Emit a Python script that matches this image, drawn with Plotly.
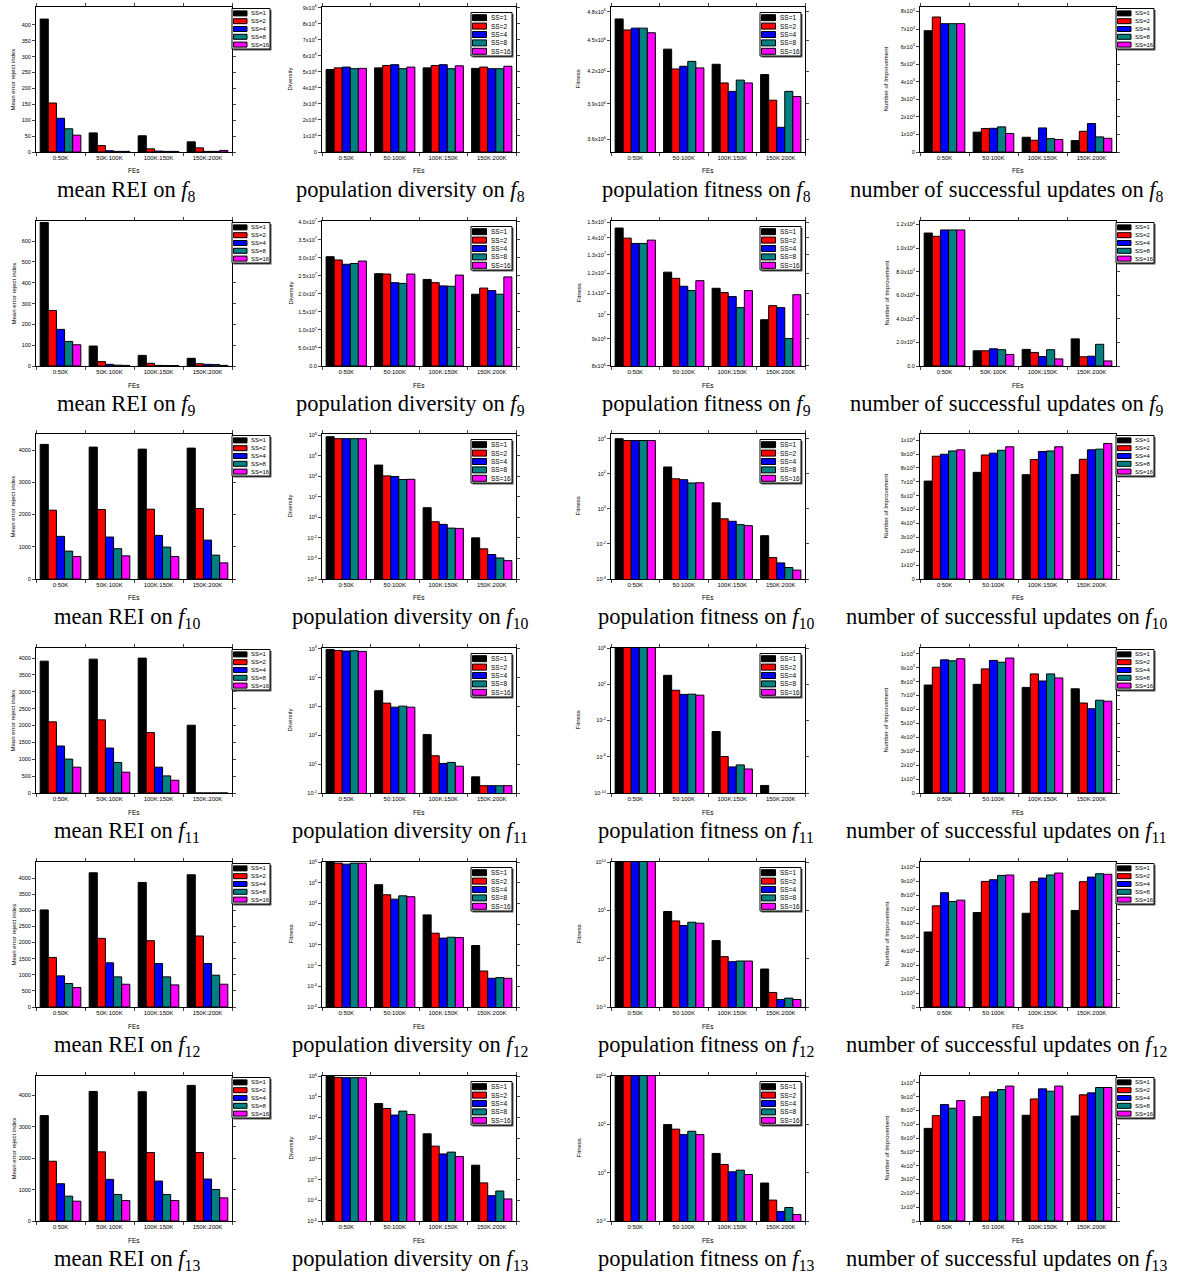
import plotly.graph_objects as go

W, H = 1187, 1277

SERIES = ["SS=1", "SS=2", "SS=4", "SS=8", "SS=16"]
COLORS = ["#000000", "#FF0000", "#0000FF", "#008080", "#FF00FF"]

CATS_K = ["0:50K", "50K:100K", "100K:150K", "150K:200K"]
CATS_S = ["0:50K", "50:100K", "100K:150K", "150K:200K"]

# ---------------- mean REI (rows: SS=1,2,4,8,16 ; cols: FE windows) ----------------
rei_f8 = [[418, 60, 51, 32], [154, 20, 10, 13], [106, 4, 3, 2], [73, 2, 2, 2], [53, 2, 2, 5]]
rei_f9 = [[690, 96, 51, 37], [267, 21, 13, 11], [176, 8, 3, 8], [118, 4, 2, 7], [102, 3, 2, 3]]
rei_f10 = [[4177, 4094, 4031, 4062], [2135, 2156, 2167, 2187], [1323, 1302, 1354, 1208],
           [865, 940, 990, 740], [698, 719, 700, 500]]
rei_f11 = [[3910, 3970, 4000, 2010], [2110, 2169, 1791, 0], [1393, 1333, 766, 0],
           [1005, 905, 507, 0], [766, 617, 378, 0]]
rei_f12 = [[3013, 4166, 3865, 4104], [1538, 2130, 2057, 2203], [966, 1371, 1351, 1351],
           [727, 935, 935, 987], [603, 707, 686, 707]]
rei_f13 = [[3358, 4128, 4118, 4321], [1904, 2203, 2182, 2182], [1187, 1326, 1273, 1337],
           [791, 845, 845, 1005], [631, 652, 652, 738]]

# ---------------- population diversity ----------------
div_f8 = [[5.15e6, 5.25e6, 5.25e6, 5.22e6], [5.25e6, 5.40e6, 5.40e6, 5.30e6],
          [5.30e6, 5.45e6, 5.45e6, 5.20e6], [5.20e6, 5.20e6, 5.20e6, 5.20e6],
          [5.22e6, 5.30e6, 5.38e6, 5.35e6]]
div_f9 = [[3.03e7, 2.56e7, 2.40e7, 1.99e7], [2.94e7, 2.55e7, 2.31e7, 2.16e7],
          [2.82e7, 2.31e7, 2.22e7, 2.09e7], [2.84e7, 2.29e7, 2.21e7, 1.99e7],
          [2.91e7, 2.55e7, 2.52e7, 2.47e7]]
div_f10 = [[7.4e7, 1.26e5, 8.9, 1.02e-2], [4.7e7, 1.12e4, 0.38, 8.7e-4],
           [4.7e7, 9.8e3, 0.21, 2.4e-4], [4.7e7, 4.9e3, 0.091, 1.12e-4],
           [4.7e7, 5.2e3, 0.085, 6.2e-5]]
div_f11 = [[8.9e8, 1.23e6, 1.12e3, 1.32], [7.6e8, 1.7e5, 38, 0.32],
           [6.9e8, 8.9e4, 11.2, 0.32], [7.2e8, 1.05e5, 13.2, 0.32],
           [6.5e8, 8.9e4, 7.2, 0.32]]
div_f12 = [[1.2e8, 6.5e5, 790, 0.87], [7.9e7, 6.9e4, 13.5, 3.0e-3],
           [6.3e7, 2.6e4, 4.5, 5.9e-4], [7.9e7, 5.5e4, 5.5, 6.9e-4],
           [7.9e7, 4.5e4, 5.1, 5.9e-4]]
div_f13 = [[1.2e8, 2.24e5, 263, 0.245], [7.4e7, 7.4e4, 17, 4.8e-3],
           [6.9e7, 1.7e4, 3.0, 2.8e-4], [6.9e7, 4.1e4, 4.5, 7.9e-4],
           [6.9e7, 1.95e4, 1.7, 1.35e-4]]

# ---------------- population fitness ----------------
fit_f8 = [[4.724e6, 4.413e6, 4.265e6, 4.167e6], [4.608e6, 4.220e6, 4.089e6, 3.933e6],
          [4.627e6, 4.246e6, 4.012e6, 3.700e6], [4.627e6, 4.293e6, 4.115e6, 4.012e6],
          [4.579e6, 4.230e6, 4.089e6, 3.966e6]]
fit_f9 = [[1.461e7, 1.205e7, 1.123e7, 9.79e6], [1.398e7, 1.173e7, 1.102e7, 1.041e7],
          [1.366e7, 1.133e7, 1.083e7, 1.032e7], [1.366e7, 1.112e7, 1.032e7, 9.02e6],
          [1.386e7, 1.161e7, 1.112e7, 1.092e7]]
fit_f10 = [[1.0e4, 245, 2.2, 0.0295], [7.9e3, 52, 0.27, 1.66e-3],
           [7.9e3, 46, 0.195, 8.3e-4], [7.9e3, 30, 0.126, 4.5e-4],
           [7.9e3, 31, 0.11, 3.2e-4]]
fit_f11 = [[2e6, 980, 6.0e-4, 6.8e-10], [2e6, 22, 1.07e-6, None],
           [2e6, 7.6, 7.6e-8, None], [2e6, 8.1, 1.26e-7, None],
           [2e6, 6.3, 4.5e-8, None]]
fit_f12 = [[2e10, 7.6e4, 74, 0.085], [2e10, 8.1e3, 1.62, 3.2e-4],
           [2e10, 2.7e3, 0.49, 6.0e-5], [2e10, 5.9e3, 0.575, 8.3e-5],
           [2e10, 4.7e3, 0.575, 6.0e-5]]
fit_f13 = [[2e10, 9.5e4, 98, 0.085], [2e10, 3.2e4, 7.1, 1.45e-3],
           [2e10, 8.7e3, 1.23, 9.8e-5], [2e10, 1.95e4, 1.82, 2.5e-4],
           [2e10, 8.7e3, 0.65, 4.7e-5]]

# ---------------- number of successful updates ----------------
upd_f8 = [[6910, 1130, 840, 650], [7690, 1340, 670, 1180], [7310, 1350, 1370, 1620],
          [7310, 1430, 760, 860], [7310, 1050, 710, 780]]
upd_f9 = [[11280, 1290, 1410, 2300], [11000, 1290, 1150, 780], [11540, 1460, 800, 830],
          [11540, 1380, 1380, 1840], [11540, 980, 600, 430]]
upd_f10 = [[7050, 7680, 7510, 7530], [8840, 8930, 8600, 8620], [8980, 9060, 9180, 9300],
           [9220, 9270, 9220, 9350], [9300, 9520, 9520, 9760]]
upd_f11 = [[7750, 7800, 7580, 7480], [9030, 8910, 8550, 6460], [9560, 9520, 8040, 6050],
           [9490, 9390, 8550, 6660], [9640, 9690, 8260, 6590]]
upd_f12 = [[5370, 6760, 6710, 6910], [7240, 8990, 8970, 8970], [8180, 9110, 9230, 9300],
           [7550, 9420, 9450, 9540], [7650, 9450, 9590, 9500]]
upd_f13 = [[6700, 7550, 7650, 7600], [7620, 8980, 8830, 9130], [8420, 9340, 9560, 9270],
           [8160, 9510, 9390, 9660], [8710, 9760, 9760, 9660]]

# ---------------- tick values / labels ----------------
rei_tv_f8 = [0, 50, 100, 150, 200, 250, 300, 350, 400]
rei_tv_f9 = [0, 100, 200, 300, 400, 500, 600]
rei_tv_1000 = [0, 1000, 2000, 3000, 4000]
rei_tv_500 = [0, 500, 1000, 1500, 2000, 2500, 3000, 3500, 4000]

div_f8_tv = [0, 1e6, 2e6, 3e6, 4e6, 5e6, 6e6, 7e6, 8e6, 9e6]
div_f8_tt = ["0", "1x10<sup>6</sup>", "2x10<sup>6</sup>", "3x10<sup>6</sup>", "4x10<sup>6</sup>",
             "5x10<sup>6</sup>", "6x10<sup>6</sup>", "7x10<sup>6</sup>", "8x10<sup>6</sup>", "9x10<sup>6</sup>"]
div_f9_tv = [0, 5e6, 1e7, 1.5e7, 2e7, 2.5e7, 3e7, 3.5e7, 4e7]
div_f9_tt = ["0.0", "5.0x10<sup>6</sup>", "1.0x10<sup>7</sup>", "1.5x10<sup>7</sup>", "2.0x10<sup>7</sup>",
             "2.5x10<sup>7</sup>", "3.0x10<sup>7</sup>", "3.5x10<sup>7</sup>", "4.0x10<sup>7</sup>"]
log_tv_a = [1e-6, 1e-4, 1e-2, 1, 1e2, 1e4, 1e6, 1e8]
log_tt_a = ["10<sup>-6</sup>", "10<sup>-4</sup>", "10<sup>-2</sup>", "10<sup>0</sup>",
            "10<sup>2</sup>", "10<sup>4</sup>", "10<sup>6</sup>", "10<sup>8</sup>"]
log_tv_b = [1e-1, 1e1, 1e3, 1e5, 1e7, 1e9]
log_tt_b = ["10<sup>-1</sup>", "10<sup>1</sup>", "10<sup>3</sup>", "10<sup>5</sup>", "10<sup>7</sup>", "10<sup>9</sup>"]

fit_f8_tv = [3.6e6, 3.9e6, 4.2e6, 4.5e6, 4.8e6]
fit_f8_tt = ["3.6x10<sup>6</sup>", "3.9x10<sup>6</sup>", "4.2x10<sup>6</sup>", "4.5x10<sup>6</sup>", "4.8x10<sup>6</sup>"]
fit_f9_tv = [8e6, 9e6, 1e7, 1.1e7, 1.2e7, 1.3e7, 1.4e7, 1.5e7]
fit_f9_tt = ["8x10<sup>6</sup>", "9x10<sup>6</sup>", "10<sup>7</sup>", "1.1x10<sup>7</sup>",
             "1.2x10<sup>7</sup>", "1.3x10<sup>7</sup>", "1.4x10<sup>7</sup>", "1.5x10<sup>7</sup>"]
fit_f10_tv = [1e-4, 1e-2, 1, 1e2, 1e4]
fit_f10_tt = ["10<sup>-4</sup>", "10<sup>-2</sup>", "10<sup>0</sup>", "10<sup>2</sup>", "10<sup>4</sup>"]
fit_f11_tv = [1e-10, 1e-6, 1e-2, 1e2, 1e6]
fit_f11_tt = ["10<sup>-10</sup>", "10<sup>-6</sup>", "10<sup>-2</sup>", "10<sup>2</sup>", "10<sup>6</sup>"]
fit_f12_tv = [1e-5, 1, 1e5, 1e10]
fit_f12_tt = ["10<sup>-5</sup>", "10<sup>0</sup>", "10<sup>5</sup>", "10<sup>10</sup>"]

upd_f8_tv = [0, 1000, 2000, 3000, 4000, 5000, 6000, 7000, 8000]
upd_f8_tt = ["0", "1x10<sup>3</sup>", "2x10<sup>3</sup>", "3x10<sup>3</sup>", "4x10<sup>3</sup>",
             "5x10<sup>3</sup>", "6x10<sup>3</sup>", "7x10<sup>3</sup>", "8x10<sup>3</sup>"]
upd_f9_tv = [0, 2000, 4000, 6000, 8000, 10000, 12000]
upd_f9_tt = ["0.0", "2.0x10<sup>3</sup>", "4.0x10<sup>3</sup>", "6.0x10<sup>3</sup>", "8.0x10<sup>3</sup>",
             "1.0x10<sup>4</sup>", "1.2x10<sup>4</sup>"]
upd_tv = [0, 1000, 2000, 3000, 4000, 5000, 6000, 7000, 8000, 9000, 10000]
upd_tt = ["0", "1x10<sup>3</sup>", "2x10<sup>3</sup>", "3x10<sup>3</sup>", "4x10<sup>3</sup>",
          "5x10<sup>3</sup>", "6x10<sup>3</sup>", "7x10<sup>3</sup>", "8x10<sup>3</sup>",
          "9x10<sup>3</sup>", "1x10<sup>4</sup>"]

FUNCS = ["8", "9", "10", "11", "12", "13"]

# panel spec: (row, col, data, cats, type, range, tickvals, ticktext, ytitle)
panels = [
    (0, 0, rei_f8, CATS_K, "linear", [0, 456], rei_tv_f8, None, "Mean error reject index"),
    (0, 1, div_f8, CATS_S, "linear", [0, 9.05e6], div_f8_tv, div_f8_tt, "Diversity"),
    (0, 2, fit_f8, CATS_S, "log", [6.544, 6.686], fit_f8_tv, fit_f8_tt, "Fitness"),
    (0, 3, upd_f8, CATS_S, "linear", [0, 8260], upd_f8_tv, upd_f8_tt, "Number of Improvement"),
    (1, 0, rei_f9, CATS_K, "linear", [0, 697], rei_tv_f9, None, "Mean error reject index"),
    (1, 1, div_f9, CATS_S, "linear", [0, 4.02e7], div_f9_tv, div_f9_tt, "Diversity"),
    (1, 2, fit_f9, CATS_S, "log", [6.903, 7.178], fit_f9_tv, fit_f9_tt, "Fitness"),
    (1, 3, upd_f9, CATS_K, "linear", [0, 12300], upd_f9_tv, upd_f9_tt, "Number of Improvement"),
    (2, 0, rei_f10, CATS_K, "linear", [0, 4500], rei_tv_1000, None, "Mean error reject index"),
    (2, 1, div_f10, CATS_S, "log", [-6.0, 8.13], log_tv_a, log_tt_a, "Diversity"),
    (2, 2, fit_f10, CATS_S, "log", [-4.0, 4.27], fit_f10_tv, fit_f10_tt, "Fitness"),
    (2, 3, upd_f10, CATS_S, "linear", [0, 10440], upd_tv, upd_tt, "Number of Improvement"),
    (3, 0, rei_f11, CATS_K, "linear", [0, 4300], rei_tv_500, None, "Mean error reject index"),
    (3, 1, div_f11, CATS_S, "log", [-1.0, 9.05], log_tv_b, log_tt_b, "Diversity"),
    (3, 2, fit_f11, CATS_S, "log", [-10.0, 6.005], fit_f11_tv, fit_f11_tt, "Fitness"),
    (3, 3, upd_f11, CATS_S, "linear", [0, 10410], upd_tv, upd_tt, "Number of Improvement"),
    (4, 0, rei_f12, CATS_K, "linear", [0, 4500], rei_tv_500, None, "Mean error reject index"),
    (4, 1, div_f12, CATS_S, "log", [-6.0, 8.005], log_tv_a, log_tt_a, "Fitness"),
    (4, 2, fit_f12, CATS_S, "log", [-5.0, 10.005], fit_f12_tv, fit_f12_tt, "Fitness"),
    (4, 3, upd_f12, CATS_S, "linear", [0, 10380], upd_tv, upd_tt, "Number of Improvement"),
    (5, 0, rei_f13, CATS_K, "linear", [0, 4620], rei_tv_1000, None, "Mean error reject index"),
    (5, 1, div_f13, CATS_S, "log", [-6.0, 8.005], log_tv_a, log_tt_a, "Diversity"),
    (5, 2, fit_f13, CATS_S, "log", [-5.0, 10.005], fit_f12_tv, fit_f12_tt, "Fitness"),
    (5, 3, upd_f13, CATS_S, "linear", [0, 10490], upd_tv, upd_tt, "Number of Improvement"),
]

CAPTIONS = ["mean REI on", "population diversity on", "population fitness on",
            "number of successful updates on"]

# layout geometry (pixels)
COL_X = [(36, 232), (322, 516), (611, 805), (920, 1116)]
ROW_B = [152, 366, 579, 793, 1007, 1221]
PH = 145
CAP_X = [127, 410, 706, 1007]
YT_X = [13, 290, 578, 886]
LEG_KIND = ["out", "in", "in", "out"]

SANS = "Liberation Sans, Arial, sans-serif"
SERIF = "Liberation Serif, Times New Roman, serif"


def px(x):
    return min(1.0, max(0.0, x / W))


def py(y):
    return min(1.0, max(0.0, 1 - y / H))


fig = go.Figure()
shapes = []
annots = []
layout_axes = {}

for i, (r, c, data, cats, ytype, yrange, tv, tt, ytitle) in enumerate(panels):
    n = i + 1
    xa = "x" if n == 1 else "x%d" % n
    ya = "y" if n == 1 else "y%d" % n
    xk = "xaxis" if n == 1 else "xaxis%d" % n
    yk = "yaxis" if n == 1 else "yaxis%d" % n
    L, R = COL_X[c]
    B = ROW_B[r]
    T = B - PH
    for s in range(5):
        fig.add_trace(go.Bar(
            x=cats, y=data[s], name=SERIES[s], xaxis=xa, yaxis=ya,
            marker=dict(color=COLORS[s], line=dict(color="black", width=1)),
            showlegend=False, hoverinfo="skip",
        ))
    layout_axes[xk] = dict(
        domain=[px(L), px(R)], anchor=ya, type="category",
        showline=True, linecolor="black", linewidth=1, mirror="ticks",
        ticks="outside", ticklen=3, tickwidth=1, tickson="boundaries",
        tickfont=dict(family=SANS, size=6, color="black"), tickangle=0,
        showgrid=False, zeroline=False, automargin=False, fixedrange=True,
    )
    yd = dict(
        domain=[py(B), py(T)], anchor=xa, type=ytype, range=yrange,
        showline=True, linecolor="black", linewidth=1, mirror="ticks",
        ticks="outside", ticklen=3, tickwidth=1,
        tickmode="array", tickvals=tv,
        tickfont=dict(family=SANS, size=5.5, color="black"),
        showgrid=False, zeroline=False, automargin=False, fixedrange=True,
    )
    if tt is not None:
        yd["ticktext"] = tt
    layout_axes[yk] = yd

    # axis titles
    annots.append(dict(x=px((L + R) / 2), y=py(B + 19), xref="paper", yref="paper",
                       text="FEs", showarrow=False, xanchor="center", yanchor="middle",
                       font=dict(family=SANS, size=6.5, color="black")))
    annots.append(dict(x=px(YT_X[c]), y=py((B + T) / 2), xref="paper", yref="paper",
                       text=ytitle, showarrow=False, textangle=-90,
                       xanchor="center", yanchor="middle",
                       font=dict(family=SANS, size=6, color="black")))
    # caption
    annots.append(dict(x=px(CAP_X[c]), y=py(B + 39), xref="paper", yref="paper",
                       text="%s <i>f</i><sub>%s</sub>" % (CAPTIONS[c], FUNCS[r]),
                       showarrow=False, xanchor="center", yanchor="middle",
                       font=dict(family=SERIF, size=22.5, color="black")))

    # legend (drawn box)
    if LEG_KIND[c] == "out":
        bx0, bx1 = R, R + 38
        by0 = T + 1.5
        rowh, swh, sww, fs = 7.8, 5, 13.5, 6
    else:
        bx1 = R - 4
        bx0 = bx1 - 41
        by0 = T + 5.5
        rowh, swh, sww, fs = 8.4, 6, 14, 6.5
    by1 = by0 + 5 * rowh + 1.5
    shapes.append(dict(type="rect", xref="paper", yref="paper",
                       x0=px(bx0 + 1.5), x1=px(bx1 + 1.5), y0=py(by1 + 1.5), y1=py(by0 + 1.5),
                       fillcolor="#555555", line=dict(width=0), layer="above"))
    shapes.append(dict(type="rect", xref="paper", yref="paper",
                       x0=px(bx0), x1=px(bx1), y0=py(by1), y1=py(by0),
                       fillcolor="white", line=dict(color="black", width=1), layer="above"))
    for s in range(5):
        cy = by0 + 1 + rowh * (s + 0.5)
        shapes.append(dict(type="rect", xref="paper", yref="paper",
                           x0=px(bx0 + 1.5), x1=px(bx0 + 1.5 + sww),
                           y0=py(cy + swh / 2), y1=py(cy - swh / 2),
                           fillcolor=COLORS[s], line=dict(color="black", width=1), layer="above"))
        annots.append(dict(x=px(bx0 + 3.5 + sww), y=py(cy), xref="paper", yref="paper",
                           text=SERIES[s], showarrow=False, xanchor="left", yanchor="middle",
                           font=dict(family=SANS, size=fs, color="black")))

fig.update_layout(
    width=W, height=H,
    margin=dict(l=0, r=0, t=0, b=0),
    paper_bgcolor="white", plot_bgcolor="white",
    barmode="group", bargap=0.17, bargroupgap=0,
    showlegend=False, hovermode=False,
    shapes=shapes, annotations=annots,
    **layout_axes,
)

POST = ("document.documentElement.style.margin='0';document.body.style.margin='0';"
        "document.body.style.padding='0';document.body.style.overflow='hidden';"
        "document.documentElement.style.overflow='hidden';")

fig.write_html("out.html", post_script=POST, config={"displayModeBar": False, "staticPlot": True})
